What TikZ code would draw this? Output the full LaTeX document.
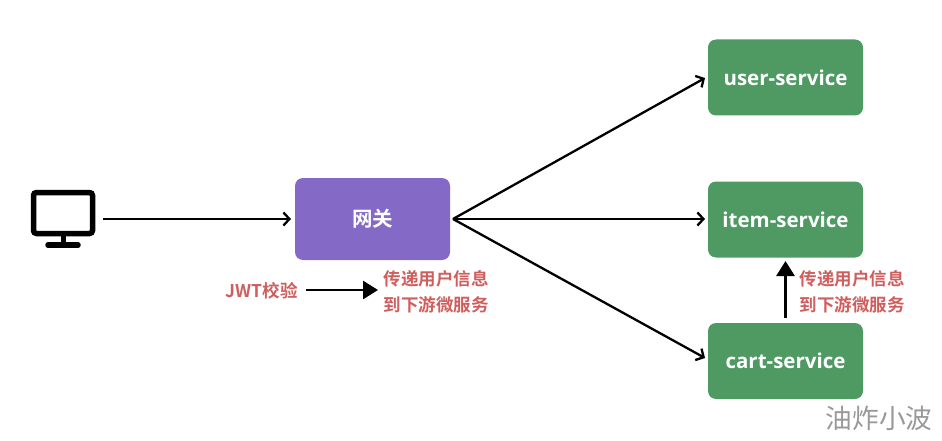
\documentclass[tikz,border=0pt]{standalone}
\usepackage{fontspec}
\setmainfont{Open Sans}
\newfontfamily\cjk{Noto Sans CJK SC}[BoldFont={Noto Sans CJK SC Bold}]
\usetikzlibrary{arrows.meta}
\definecolor{gw}{HTML}{8569C6}
\definecolor{svc}{HTML}{4E9A62}
\definecolor{note}{HTML}{CF5F5F}
\tikzset{
  box/.style={rounded corners=8pt,minimum width=155pt,minimum height=76pt,inner sep=0pt,text=white,font=\fontsize{20.5pt}{22pt}\selectfont\bfseries},
  conn/.style={line width=2.3pt,-{Straight Barb[length=6pt,width=13pt,line width=2.3pt]}},
  fat/.style={line width=2.8pt,-{Triangle[length=15pt,width=18pt]}},
  notetext/.style={text=note,font=\fontsize{17.5pt}{25.5pt}\selectfont\bfseries\cjk,align=center,inner sep=0pt},
  icon/.style={draw=black,line width=5.5pt,rounded corners=3pt,minimum width=59pt,minimum height=41pt,inner sep=0pt}
}
\begin{document}
\begin{tikzpicture}[x=1pt,y=-1pt]
\useasboundingbox (0,0) rectangle (942,441);
\fill[white] (0,0) rectangle (942,441);
% monitor
\node[icon] (mon) at (63,213) {};
\coordinate (monb) at (63,236);
\coordinate (mons) at (63,245);
\coordinate (monl) at (48,245);
\coordinate (monr) at (78,245);
\draw[line width=5pt] (monb) -- (mons);
\draw[line width=5.5pt,line cap=round] (monl) -- (monr);
% boxes
\node[box,fill=gw,minimum height=82pt] (gate) at (372.5,219) {\cjk 网关};
\node[box,fill=svc] (user) at (785.5,77.5) {\raisebox{-0.5pt}{user-service}};
\node[box,fill=svc] (item) at (785.5,219.5) {\raisebox{-0.5pt}{item-service}};
\node[box,fill=svc] (cart) at (785.5,361) {\raisebox{-0.5pt}{cart-service}};
% connector ends
\coordinate (monout) at (103,219);
\coordinate (gatein) at (291,219);
\coordinate (hub) at (453,219);
\coordinate (userin) at (705,78);
\coordinate (itemin) at (705,219);
\coordinate (cartin) at (705,358);
\draw[conn] (monout) -- (gatein);
\draw[conn] (hub) -- (userin);
\draw[conn] (hub) -- (itemin);
\draw[conn] (hub) -- (cartin);
% notes
\node[notetext,anchor=east] (jwt) at (298,291) {JWT校验};
\node[notetext] (pass1) at (436,292) {传递用户信息\\到下游微服务};
\node[notetext] (pass2) at (852,292) {传递用户信息\\到下游微服务};
\coordinate (jwtout) at (306,290);
\coordinate (passin) at (378,290);
\draw[fat] (jwtout) -- (passin);
\coordinate (cartup) at (785.5,318);
\coordinate (itemdown) at (785.5,261);
\draw[fat] (cartup) -- (itemdown);
% watermark
\node[text=black!40,font=\fontsize{26.7pt}{28pt}\selectfont\cjk,inner sep=0pt] (mark) at (879,418) {油炸小波};
\end{tikzpicture}
\end{document}
